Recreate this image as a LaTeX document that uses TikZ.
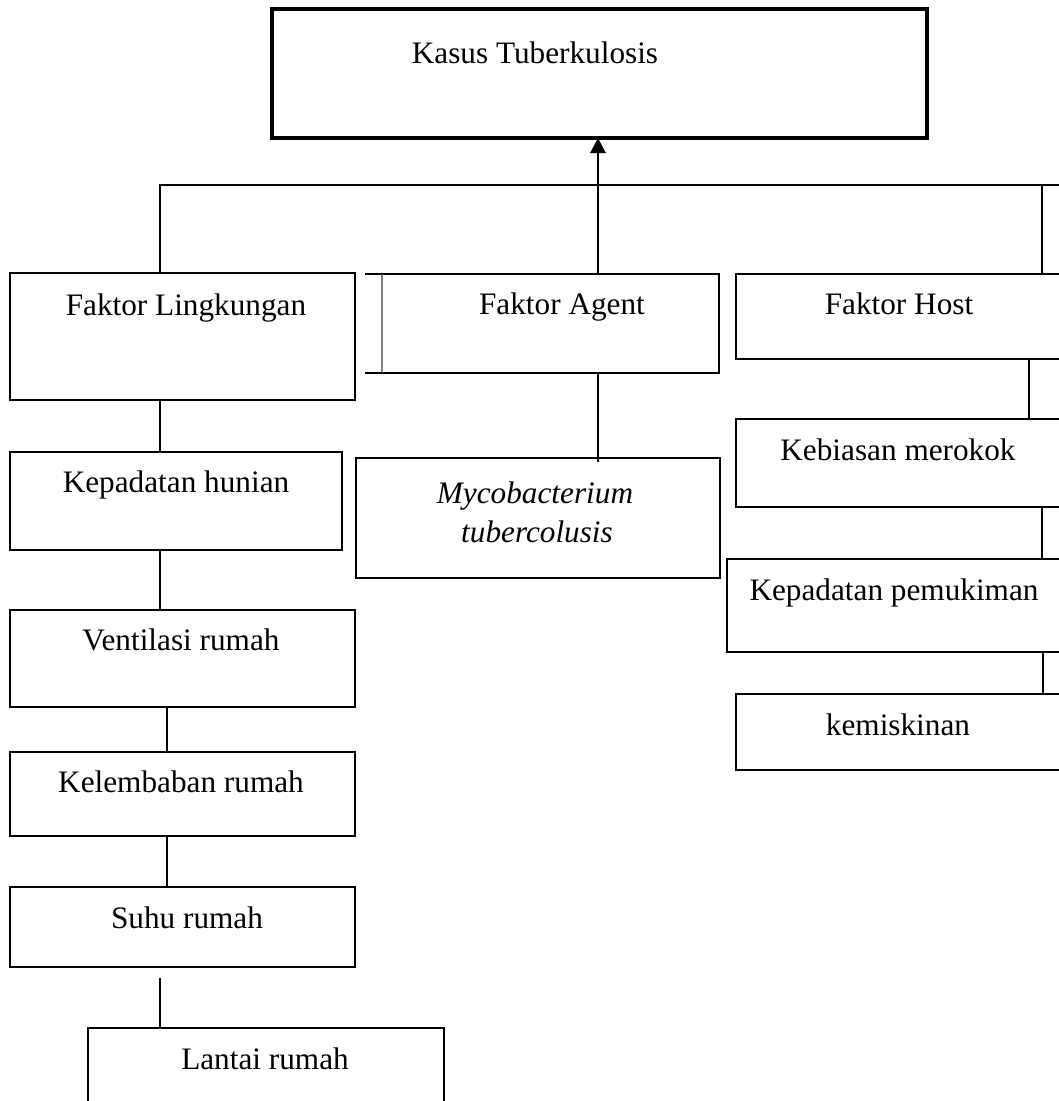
\documentclass[tikz,border=0pt]{standalone}
\usepackage{fontspec}
\setmainfont{Liberation Serif}
\usetikzlibrary{arrows.meta}
\def\pxu{0.384pt}
\begin{document}
\begin{tikzpicture}[x=0.384pt,y=-0.384pt,
  box/.style={draw,line width=0.7pt,inner sep=0pt,outer sep=0pt},
  lbl/.style={inner sep=0pt,anchor=base,font=\fontsize{12}{14}\selectfont},
  conn/.style={line width=0.7pt}]
\clip (0,0) rectangle (1059,1101);
\fill[white] (0,0) rectangle (1059,1101);
% boxes
\node[box,line width=1.9pt,minimum width=655*\pxu,minimum height=129*\pxu] (top) at (599.5,73.5) {};
\node[box,minimum width=345*\pxu,minimum height=127*\pxu] (lingk) at (182.5,336.5) {};
\node[box,minimum width=337*\pxu,minimum height=99*\pxu] (agent) at (550.5,323.5) {};
\node[box,minimum width=339*\pxu,minimum height=85*\pxu] (host) at (905.5,316.5) {};
\node[box,minimum width=339*\pxu,minimum height=88*\pxu] (kebiasan) at (905.5,463) {};
\node[box,minimum width=348*\pxu,minimum height=93*\pxu] (pemukiman) at (901,605.5) {};
\node[box,minimum width=339*\pxu,minimum height=76*\pxu] (miskin) at (905.5,732) {};
\node[box,minimum width=364*\pxu,minimum height=120*\pxu] (myco) at (538,518) {};
\node[box,minimum width=332*\pxu,minimum height=98*\pxu] (hunian) at (176,501) {};
\node[box,minimum width=345*\pxu,minimum height=97*\pxu] (ventilasi) at (182.5,658.5) {};
\node[box,minimum width=345*\pxu,minimum height=84*\pxu] (kelembaban) at (182.5,794) {};
\node[box,minimum width=345*\pxu,minimum height=80*\pxu] (suhu) at (182.5,927) {};
\node[box,minimum width=356*\pxu,minimum height=92*\pxu] (lantai) at (266,1074) {};
% odd left edge of Faktor Agent
\draw[white,line width=0.9pt] (agent.north west) -- (agent.south west);
\draw[gray,line width=0.6pt] (agent.north west) -- (agent.south west);
\draw[conn] (agent.north west) -- ++(-17,0);
\draw[conn] (agent.south west) -- ++(-17,0);
% labels
\node[lbl] (tTop) at (535,63) {Kasus Tuberkulosis};
\node[lbl] (tLingk) at (186,315) {Faktor Lingkungan};
\node[lbl] (tAgent) at (562,314) {Faktor Agent};
\node[lbl] (tHost) at (899,314) {Faktor Host};
\node[lbl] (tKeb) at (898,460) {Kebiasan merokok};
\node[lbl] (tPem) at (894,600) {Kepadatan pemukiman};
\node[lbl] (tMis) at (898,735) {kemiskinan};
\node[lbl] (tMyco1) at (535,503) {\itshape Mycobacterium};
\node[lbl] (tMyco2) at (537,542) {\itshape tubercolusis};
\node[lbl] (tHun) at (176,492) {Kepadatan hunian};
\node[lbl] (tVen) at (181,650) {Ventilasi rumah};
\node[lbl] (tKel) at (181,792) {Kelembaban rumah};
\node[lbl] (tSuhu) at (187,928) {Suhu rumah};
\node[lbl] (tLan) at (265,1069) {Lantai rumah};
% coordinates for connector positions
\coordinate (hL) at (160,185);
\coordinate (hR) at (1070,185);
\coordinate (hH) at (1042,185);
\coordinate (xA) at (598,0);
\coordinate (xL2) at (167,0);
\coordinate (sl) at (160,978);
\coordinate (am) at (598,462);
\coordinate (xH1) at (1029,0);
\coordinate (xH2) at (1042,0);
\coordinate (xH3) at (1043,0);
% connectors
\draw[line width=1.1pt,-{Triangle[width=15*\pxu,length=15*\pxu]}] (agent.north -| xA) -- (top.south -| xA);
\draw[conn] (lingk.north -| hL) -- (hL) -- (hR);
\draw[conn] (hH) -- (hH |- host.north);
\draw[conn] (lingk.south -| hL) -- (hunian.north -| hL);
\draw[conn] (hunian.south -| hL) -- (ventilasi.north -| hL);
\draw[conn] (ventilasi.south -| xL2) -- (kelembaban.north -| xL2);
\draw[conn] (kelembaban.south -| xL2) -- (suhu.north -| xL2);
\draw[conn] (sl) -- (sl |- lantai.north);
\draw[conn] (agent.south -| xA) -- (am);
\draw[conn] (host.south -| xH1) -- (kebiasan.north -| xH1);
\draw[conn] (kebiasan.south -| xH2) -- (pemukiman.north -| xH2);
\draw[conn] (pemukiman.south -| xH3) -- (miskin.north -| xH3);
\end{tikzpicture}
\end{document}
